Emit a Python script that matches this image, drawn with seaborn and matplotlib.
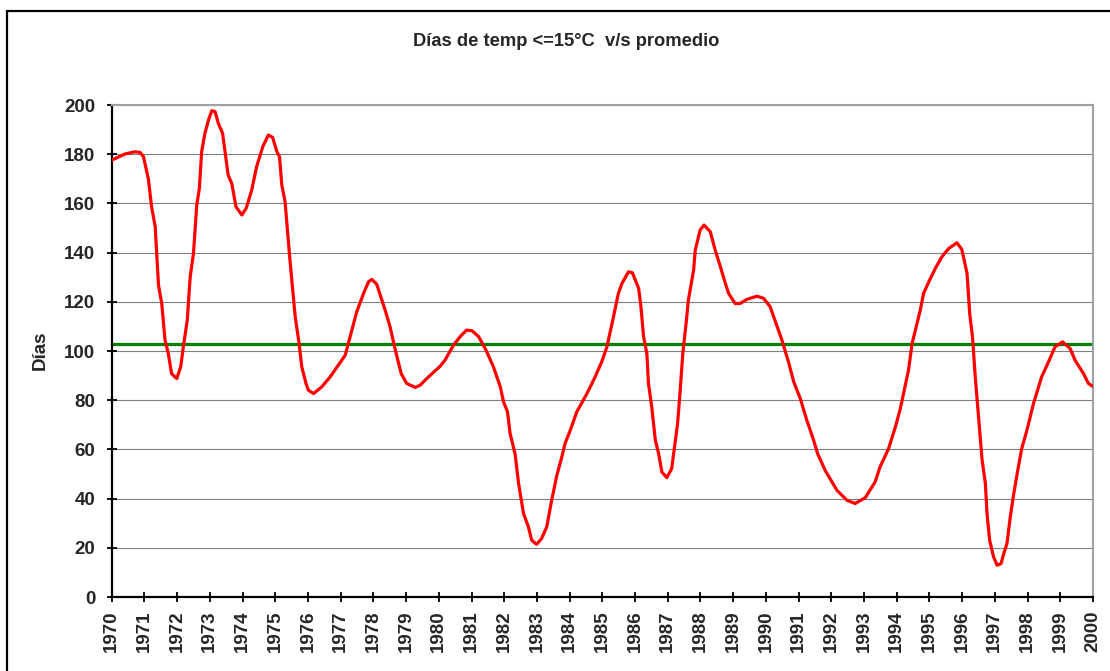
import matplotlib
matplotlib.use("Agg")
import matplotlib.pyplot as plt
from matplotlib.patches import Rectangle
import seaborn as sns
import pandas as pd

# ---- data ----
anios = [
    1970.00, 1970.41, 1970.71, 1970.87, 1970.97, 1971.12, 1971.22, 1971.33, 1971.43, 1971.53,
    1971.63, 1971.73, 1971.83, 1971.99, 1972.11, 1972.19, 1972.31, 1972.40, 1972.50, 1972.60,
    1972.68, 1972.75, 1972.85, 1972.96, 1973.06, 1973.16, 1973.26, 1973.39, 1973.56, 1973.67,
    1973.80, 1973.98, 1974.11, 1974.28, 1974.43, 1974.62, 1974.79, 1974.92, 1975.05, 1975.13,
    1975.20, 1975.30, 1975.45, 1975.61, 1975.73, 1975.81, 1975.94, 1976.01, 1976.17, 1976.42,
    1976.68, 1976.96, 1977.14, 1977.29, 1977.49, 1977.70, 1977.85, 1977.95, 1978.10, 1978.21,
    1978.36, 1978.51, 1978.66, 1978.85, 1979.02, 1979.28, 1979.43, 1979.63, 1980.04, 1980.19,
    1980.45, 1980.65, 1980.85, 1981.02, 1981.22, 1981.42, 1981.67, 1981.88, 1981.98, 1982.10,
    1982.18, 1982.33, 1982.44, 1982.59, 1982.74, 1982.84, 1982.99, 1983.14, 1983.30, 1983.45,
    1983.61, 1983.76, 1983.86, 1984.02, 1984.22, 1984.53, 1984.78, 1984.98, 1985.14, 1985.34,
    1985.49, 1985.60, 1985.80, 1985.92, 1986.11, 1986.18, 1986.26, 1986.36, 1986.41, 1986.51,
    1986.62, 1986.72, 1986.82, 1986.97, 1987.12, 1987.22, 1987.30, 1987.38, 1987.46, 1987.56,
    1987.63, 1987.79, 1987.84, 1987.99, 1988.11, 1988.30, 1988.45, 1988.61, 1988.76, 1988.86,
    1989.06, 1989.21, 1989.42, 1989.73, 1989.93, 1990.13, 1990.29, 1990.49, 1990.69, 1990.85,
    1991.05, 1991.25, 1991.46, 1991.58, 1991.81, 1992.17, 1992.48, 1992.73, 1993.04, 1993.34,
    1993.49, 1993.75, 1993.96, 1994.11, 1994.23, 1994.36, 1994.47, 1994.62, 1994.72, 1994.82,
    1994.98, 1995.18, 1995.38, 1995.59, 1995.84, 1995.99, 1996.15, 1996.23, 1996.32, 1996.40,
    1996.50, 1996.61, 1996.71, 1996.76, 1996.84, 1996.96, 1997.07, 1997.19, 1997.27, 1997.37,
    1997.47, 1997.57, 1997.70, 1997.82, 1997.98, 1998.18, 1998.43, 1998.64, 1998.84, 1999.07,
    1999.30, 1999.45, 1999.71, 1999.86, 1999.98,
]
dias = [
    177.6, 180.1, 181.0, 180.7, 179.0, 170.0, 158.6, 150.5, 126.8, 119.3,
    104.4, 99.0, 90.8, 88.8, 93.6, 101.7, 112.5, 130.2, 139.7, 159.3,
    166.1, 181.0, 188.5, 193.9, 197.7, 197.3, 192.5, 188.5, 171.5, 168.1,
    158.6, 155.3, 158.0, 165.4, 174.9, 183.1, 187.8, 186.8, 181.0, 179.0,
    167.5, 160.7, 136.9, 113.9, 103.0, 93.6, 86.8, 84.1, 82.7, 85.4,
    89.5, 94.9, 98.3, 105.8, 115.9, 123.4, 128.1, 129.1, 127.2, 122.7,
    116.6, 109.8, 101.0, 90.8, 86.8, 85.2, 86.1, 88.8, 93.8, 96.3,
    102.4, 105.8, 108.5, 108.2, 105.8, 101.0, 93.6, 85.4, 79.3, 75.3,
    66.4, 58.3, 46.1, 33.9, 28.5, 23.1, 21.4, 23.7, 28.5, 39.3,
    49.5, 56.9, 62.4, 67.8, 75.3, 82.7, 89.5, 95.6, 101.7, 113.9,
    123.4, 127.5, 132.2, 131.8, 125.4, 118.0, 105.8, 99.0, 86.8, 77.3,
    63.7, 58.3, 50.8, 48.5, 52.2, 62.4, 70.5, 84.1, 99.0, 111.2,
    120.7, 132.9, 141.0, 149.2, 151.2, 148.5, 141.0, 134.2, 127.5, 123.4,
    119.3, 119.3, 121.0, 122.3, 121.4, 118.0, 111.9, 104.4, 95.6, 87.5,
    80.7, 71.9, 63.7, 58.3, 51.5, 43.4, 39.3, 38.0, 40.4, 46.8,
    52.9, 60.3, 69.2, 76.6, 84.1, 92.2, 103.1, 111.2, 116.6, 123.4,
    128.1, 133.6, 138.3, 141.7, 144.0, 141.3, 131.5, 115.3, 105.1, 89.5,
    73.2, 55.6, 46.1, 33.9, 23.1, 16.3, 12.9, 13.6, 17.6, 21.7,
    32.5, 41.4, 51.5, 60.3, 67.8, 78.6, 89.5, 95.6, 101.7, 103.7,
    101.0, 96.3, 90.8, 86.8, 85.7,
]
promedio = 103.0
x_ticks = list(range(1970, 2001))
y_ticks = list(range(0, 201, 20))
titulo = "Días de temp <=15°C  v/s promedio"
etiqueta_y = "Días"

# ---- style ----
sns.set_theme(style="white")
plt.rcParams["font.family"] = ["Liberation Sans", "DejaVu Sans"]
plt.rcParams["font.weight"] = "bold"

fig = plt.figure(figsize=(11.10, 6.71), dpi=100)
ax = fig.add_axes([111.7 / 1110, 1 - 597 / 671, (1093 - 111.7) / 1110, (597 - 105) / 671])

df = pd.DataFrame({"anio": anios, "dias": dias})
sns.lineplot(data=df, x="anio", y="dias", ax=ax, color="#ff0000", linewidth=2.3,
             estimator=None, sort=False, zorder=3,
             solid_joinstyle="round", solid_capstyle="round")
ax.axhline(promedio, color="#008000", linewidth=2.3, zorder=2)

ax.set_xlim(1970, 2000)
ax.set_ylim(0, 200)
ax.set_xticks(x_ticks)
ax.set_yticks(y_ticks)
ax.set_xticklabels([str(t) for t in x_ticks], rotation=90, fontsize=13.5, fontweight="bold")
ax.set_yticklabels([str(t) for t in y_ticks], fontsize=13.5, fontweight="bold")
ax.set_xlabel("")
ax.set_ylabel("")

ax.grid(axis="y", color="#808080", linewidth=0.8, linestyle="-")
ax.grid(axis="x", visible=False)
ax.set_axisbelow(True)

for side in ["left", "bottom"]:
    ax.spines[side].set_color("black")
    ax.spines[side].set_linewidth(1.6)
for side in ["top", "right"]:
    ax.spines[side].set_visible(True)
    ax.spines[side].set_color("#a0a0a0")
    ax.spines[side].set_linewidth(1.5)

ax.tick_params(axis="both", which="major", direction="inout", length=7.5, width=1.3,
               color="black", bottom=True, left=True, top=False, right=False)
ax.tick_params(axis="y", pad=8)
ax.tick_params(axis="x", pad=6)

fig.text(566 / 1110, 1 - 42 / 671, titulo, ha="center", va="center",
         fontsize=13.2, fontweight="bold")
fig.text(40.5 / 1110, 1 - 350 / 671, etiqueta_y, ha="center", va="center",
         rotation=90, fontsize=13.5, fontweight="bold")

# outer chart border (extends past the right and bottom edges, as in the reference)
fig.patches.append(Rectangle((7 / 1110, -0.2), 1.5, (1 - 10.7 / 671) + 0.2,
                             transform=fig.transFigure, fill=False,
                             edgecolor="black", linewidth=1.6, zorder=10))

fig.savefig("out.png", dpi=100, facecolor="white")
